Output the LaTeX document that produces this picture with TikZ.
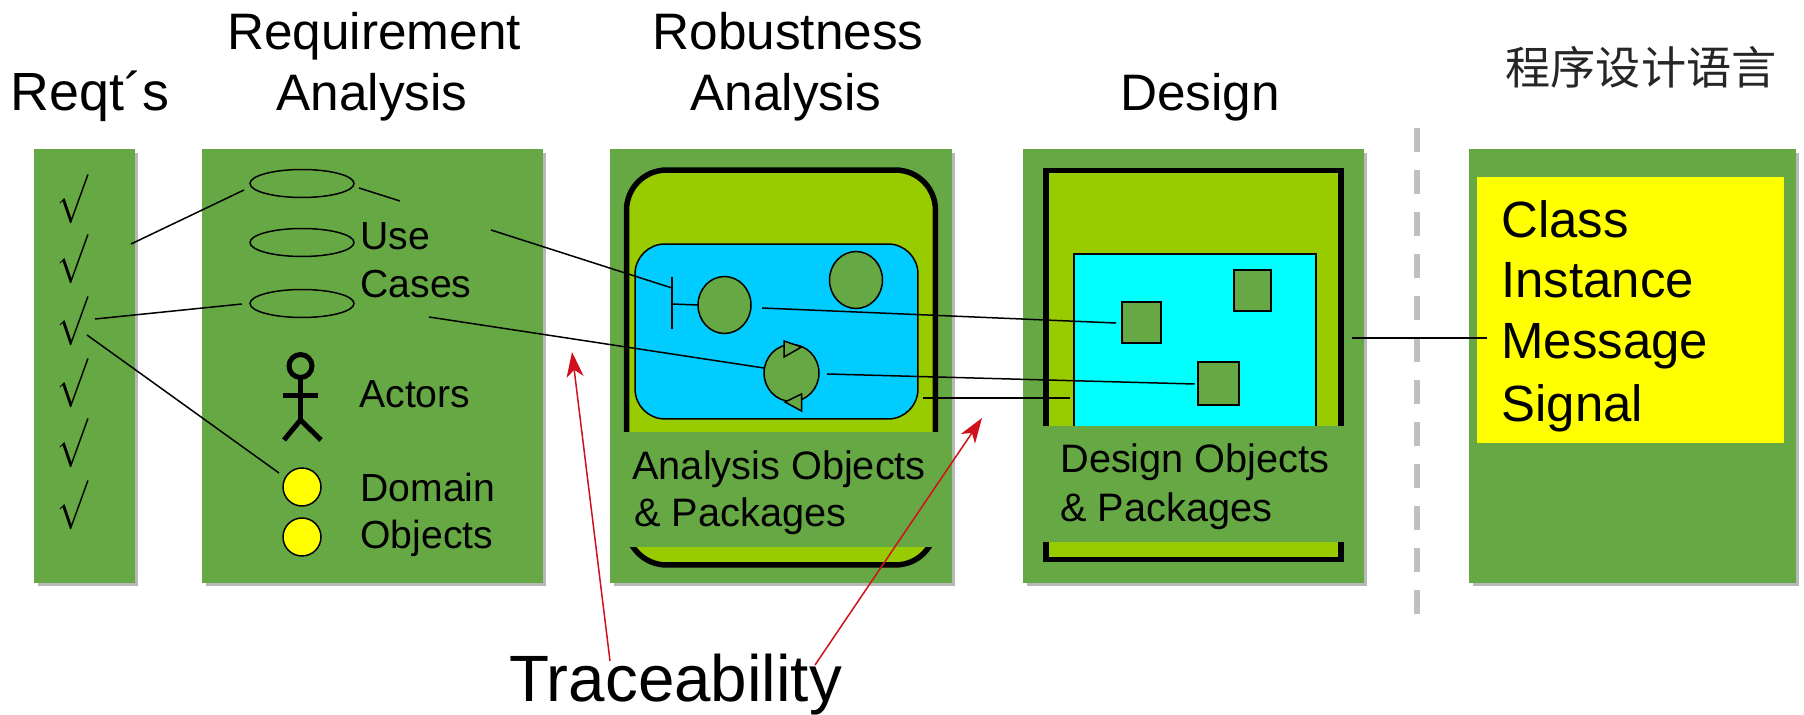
\documentclass[tikz,border=0pt]{standalone}
\usepackage{fontspec}
\setmainfont{Liberation Sans}
\newfontfamily\cjkfont{Noto Sans CJK SC}
\usetikzlibrary{arrows.meta,shapes.geometric,shadows}
\definecolor{panelgreen}{HTML}{66A944}
\definecolor{pkggreen}{HTML}{99CC00}
\definecolor{anblue}{HTML}{00CCFF}
\definecolor{dsgcyan}{HTML}{00FFFF}
\definecolor{tracered}{HTML}{D0101C}
\definecolor{objyellow}{HTML}{FFFF00}
\begin{document}
\begin{tikzpicture}
  [x=0.02cm,y=-0.02cm,
  panel/.style={rectangle,fill=panelgreen,outer sep=0,inner sep=0,
                  drop shadow={shadow xshift=0.07cm,shadow yshift=-0.07cm,
                  opacity=1,fill=black!28}},
  package/.style={rectangle,draw=black,fill=pkggreen,line width=0.11cm,outer sep=0},
  cover/.style={rectangle,fill=panelgreen,outer sep=0,inner sep=0},
  anarea/.style={rectangle,rounded corners=0.6cm,draw=black,fill=anblue,
                  line width=0.03cm,outer sep=0},
  dsgarea/.style={rectangle,draw=black,fill=dsgcyan,line width=0.03cm,outer sep=0},
  usecase/.style={ellipse,draw=black,line width=0.03cm,minimum width=2.08cm,
                  minimum height=0.56cm,inner sep=0,outer sep=0},
  domobj/.style={circle,draw=black,fill=objyellow,line width=0.03cm,
                  minimum size=0.76cm,inner sep=0,outer sep=0},
  anobj/.style={ellipse,draw=black,fill=panelgreen,line width=0.03cm,
                  minimum width=1.06cm,minimum height=1.14cm,inner sep=0,outer sep=0},
  dsgobj/.style={rectangle,draw=black,fill=panelgreen,line width=0.03cm,
                  inner sep=0,outer sep=0},
  tick/.style={xscale=2.1,yscale=2.8,inner sep=0,outer sep=0},
  title/.style={anchor=base,inner sep=0,font=\fontsize{29.2}{31}\selectfont},
  body/.style={anchor=base west,inner sep=0,font=\fontsize{22.3}{24}\selectfont},
  pkgtxt/.style={anchor=base west,inner sep=0,font=\fontsize{22.6}{24}\selectfont},
  listtxt/.style={anchor=base west,inner sep=0,font=\fontsize{29}{30}\selectfont},
  link/.style={draw=black,line width=0.03cm},
  trace/.style={draw=tracered,line width=0.03cm,
                  -{Stealth[length=0.5cm,width=0.34cm,inset=0.14cm]}},
  stick/.style={draw=black,line width=0.1cm},
  divider/.style={draw=black!25,line width=0.12cm,dash pattern=on 0.48cm off 0.36cm}
                  ]
  \useasboundingbox (0,0) rectangle (1804,715);
  % titles
  \node[title,font=\fontsize{30.6}{32}\selectfont] (treq) at (90,110.5) {Reqt´s};
  \node[title] (tra1) at (374,49.5) {Requirement};
  \node[title] (tra2) at (372,110.5) {Analysis};
  \node[title] (trb1) at (788,49.5) {Robustness};
  \node[title] (trb2) at (786,110.5) {Analysis};
  \node[title] (tdsg) at (1200,110.5) {Design};
  \node[inner sep=0,text=black!85,font=\cjkfont\fontsize{25.7}{28}\selectfont] (tlang) at (1641,67) {程序设计语言};
  % panels
  \node[panel,minimum width=2.02cm,minimum height=8.68cm] (reqpanel) at (84.5,366) {};
  \node[panel,minimum width=6.81cm,minimum height=8.68cm] (rapanel) at (372.7,366) {};
  \node[panel,minimum width=6.83cm,minimum height=8.68cm] (anpanel) at (781.2,366) {};
  \node[panel,minimum width=6.82cm,minimum height=8.68cm] (dsgpanel) at (1193.5,366) {};
  \node[panel,minimum width=6.54cm,minimum height=8.68cm] (langpanel) at (1632.5,366) {};
  % reqt's
  \foreach \y [count=\i] in {199,259,321,383,443,505}
    \node[tick] (chk\i) at (73,\y) {$\surd$};
  % requirement analysis
  \node[usecase] (uc1) at (302,183.5) {};
  \node[usecase] (uc2) at (302,242.5) {};
  \node[usecase] (uc3) at (302,303.5) {};
  \node[body] (tuse) at (360,250) {Use};
  \node[body] (tcases) at (360,298) {Cases};
  \node[body] (tactors) at (359,407.5) {Actors};
  \node[body] (tdomain) at (360,501) {Domain};
  \node[body] (tobjects) at (360,548) {Objects};
  \node[domobj] (dom1) at (302,487) {};
  \node[domobj] (dom2) at (302,537) {};
  \node[circle,draw=black,line width=0.1cm,minimum size=0.46cm,inner sep=0,outer sep=0] (head) at (300.5,366) {};
  \coordinate (hip) at (300.5,420);
  \coordinate (armL) at (283,396);
  \coordinate (armR) at (318,396);
  \coordinate (legL) at (284,440);
  \coordinate (legR) at (321,440);
  % robustness analysis
  \node[package,rounded corners=0.8cm,minimum width=6.18cm,minimum height=7.9cm] (anpkg) at (781,367.5) {};
  \node[anarea,minimum width=5.66cm,minimum height=3.5cm] (anbox) at (776.5,331.5) {};
  \node[anobj] (obj1) at (724.5,305) {};
  \node[anobj] (obj2) at (856,280) {};
  \node[anobj,minimum width=1.1cm] (obj3) at (791.5,373) {};
  \coordinate (bndT) at (672,277);
  \coordinate (bndB) at (672,329);
  \coordinate (bndM) at (672,304);
  \draw[link,fill=panelgreen] (784,341) -- (784,357) -- (801.5,347) -- cycle;
  \draw[link,fill=panelgreen] (801.5,394) -- (801.5,411) -- (785,402) -- cycle;
  \node[cover,minimum width=6.4cm,minimum height=2.3cm] (ancover) at (781,489.5) {};
  \node[pkgtxt] (tana1) at (632,480) {Analysis Objects};
  \node[pkgtxt] (tana2) at (634,527) {\& Packages};
  % design
  \node[package,minimum width=5.9cm,minimum height=7.79cm] (dsgpkg) at (1193.5,365) {};
  \node[dsgarea,minimum width=4.84cm,minimum height=3.72cm] (dsgbox) at (1195,347) {};
  \node[dsgobj,minimum width=0.78cm,minimum height=0.82cm] (dsg1) at (1141.5,322.5) {};
  \node[dsgobj,minimum width=0.74cm,minimum height=0.82cm] (dsg2) at (1252.5,290.5) {};
  \node[dsgobj,minimum width=0.82cm,minimum height=0.86cm] (dsg3) at (1218.5,383.5) {};
  \node[cover,minimum width=6.14cm,minimum height=2.32cm] (dsgcover) at (1193.5,484) {};
  \node[pkgtxt] (tdsg1) at (1060,473) {Design Objects};
  \node[pkgtxt] (tdsg2) at (1060,521) {\& Packages};
  % language
  \node[rectangle,fill=objyellow,outer sep=0,inner sep=0,minimum width=6.14cm,minimum height=5.32cm] (langbox) at (1630.5,310) {};
  \node[listtxt] (tclass) at (1501,237.5) {Class};
  \node[listtxt] (tinst) at (1501,297.5) {Instance};
  \node[listtxt] (tmsg) at (1501,359) {Message};
  \node[listtxt] (tsig) at (1501,421.5) {Signal};
  \node[anchor=base west,inner sep=0,font=\fontsize{37.3}{40}\selectfont] (ttrace) at (509,701) {Traceability};
  % free ends
  \coordinate (a1) at (131,244);
  \coordinate (a2) at (244,190);
  \coordinate (b1) at (359,188);
  \coordinate (b2) at (400,201);
  \coordinate (c1) at (491,230);
  \coordinate (c2) at (672,288);
  \coordinate (d1) at (95,319);
  \coordinate (d2) at (242,304);
  \coordinate (e1) at (87,335);
  \coordinate (e2) at (279,473);
  \coordinate (f1) at (429,317);
  \coordinate (f2) at (764,368);
  \coordinate (g1) at (762,308);
  \coordinate (g2) at (1116,323);
  \coordinate (h1) at (827,374);
  \coordinate (h2) at (1194.5,384);
  \coordinate (k1) at (923,398);
  \coordinate (k2) at (1070,398);
  \coordinate (m1) at (1352,338);
  \coordinate (m2) at (1487,338);
  \coordinate (rt1) at (610,661);
  \coordinate (rh1) at (572,352);
  \coordinate (rt2) at (815,665);
  \coordinate (rh2) at (982,418);
  \coordinate (divT) at (1417,128);
  \coordinate (divB) at (1417,615);
  % stick figure
  \draw[stick] (head.south) to (hip);
  \draw[stick] (armL) to (armR);
  \draw[stick] (hip) to (legL);
  \draw[stick] (hip) to (legR);
  % boundary object
  \draw[link] (bndT) to (bndB);
  \draw[link] (bndM) to (obj1.west);
  % links
  \draw[link] (a1) to (a2);
  \draw[link] (b1) to (b2);
  \draw[link] (c1) to (c2);
  \draw[link] (d1) to (d2);
  \draw[link] (e1) to (e2);
  \draw[link] (f1) to (f2);
  \draw[link] (g1) to (g2);
  \draw[link] (h1) to (h2);
  \draw[link] (k1) to (k2);
  \draw[divider] (divT) to (divB);
  \draw[link] (m1) to (m2);
  \draw[trace] (rt1) to (rh1);
  \draw[trace] (rt2) to (rh2);
\end{tikzpicture}
\end{document}
